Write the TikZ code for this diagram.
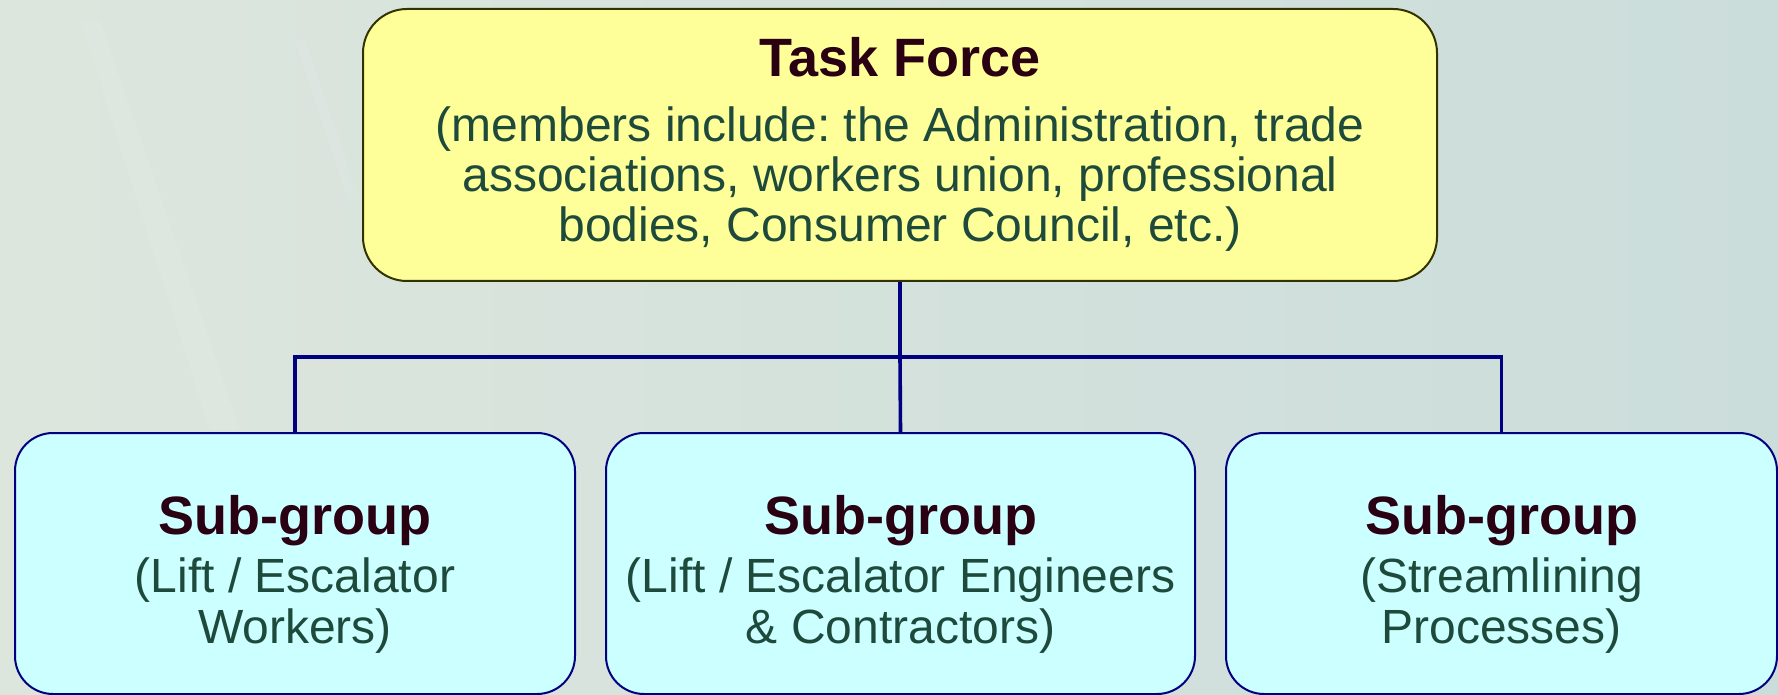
\documentclass[tikz,border=0pt]{standalone}
\usepackage{fontspec}
\setmainfont{Liberation Sans}
\frenchspacing
\definecolor{bgleft}{HTML}{DDE6DD}
\definecolor{bgright}{HTML}{CBDDDB}
\definecolor{topfill}{HTML}{FFFF99}
\definecolor{topborder}{HTML}{333300}
\definecolor{subfill}{HTML}{CCFFFF}
\definecolor{navyline}{HTML}{000080}
\definecolor{titlecol}{HTML}{2A0013}
\definecolor{bodycol}{HTML}{1E4A3C}
\begin{document}
\begin{tikzpicture}[x=0.5pt,y=-0.5pt,
  topbox/.style={draw=topborder, line width=1pt, fill=topfill, rounded corners=22pt,
    minimum width=537pt, minimum height=136pt, inner sep=0pt},
  subbox/.style={draw=navyline, line width=1pt, fill=subfill, rounded corners=19pt,
    minimum height=130.5pt, inner sep=0pt},
  txt/.style={align=center, text=bodycol, inner sep=0pt, anchor=base,
    font=\fontsize{24}{25}\selectfont},
  conn/.style={draw=navyline, line width=1.8pt}]
\useasboundingbox (0,0) rectangle (1778,695);
\shade[left color=bgleft, right color=bgright] (0,0) rectangle (1778,695);
\fill[white, opacity=0.08] (80,20) -- (100,20) -- (240,430) -- (210,430) -- cycle;
\fill[white, opacity=0.06] (295,40) -- (305,40) -- (360,200) -- (348,200) -- cycle;

\node[topbox] (tf) at (900,145) {};
\node[subbox, minimum width=280pt] (b1) at (295,563.5) {};
\node[subbox, minimum width=294.5pt] (b2) at (900.5,563.5) {};
\node[subbox, minimum width=275.5pt] (b3) at (1501.5,563.5) {};

\coordinate (hub) at (900,357);
\draw[conn] (tf.south) -- (hub);
\draw[conn] (b1.north) |- (hub) -| (b3.north);
\draw[conn] (hub) -- (b2.north);

\node[txt] (t0) at (900,242) {{\color{titlecol}\fontsize{27}{25}\selectfont\bfseries Task Force}\\[7.5pt]
  (members include: the Administration, trade\\
  associations, workers union, professional\\
  bodies, Consumer Council, etc.)};
\node[txt] (t1) at (295,643) {{\color{titlecol}\fontsize{27}{25}\selectfont\bfseries Sub-group}\\[4pt]
  (Lift / Escalator\\[0.5pt] Workers)};
\node[txt] (t2) at (900.5,643) {{\color{titlecol}\fontsize{27}{25}\selectfont\bfseries Sub-group}\\[4pt]
  (Lift / Escalator Engineers\\[0.5pt] \& Contractors)};
\node[txt] (t3) at (1501.5,643) {{\color{titlecol}\fontsize{27}{25}\selectfont\bfseries Sub-group}\\[4pt]
  (Streamlining\\[0.5pt] Processes)};
\end{tikzpicture}
\end{document}
